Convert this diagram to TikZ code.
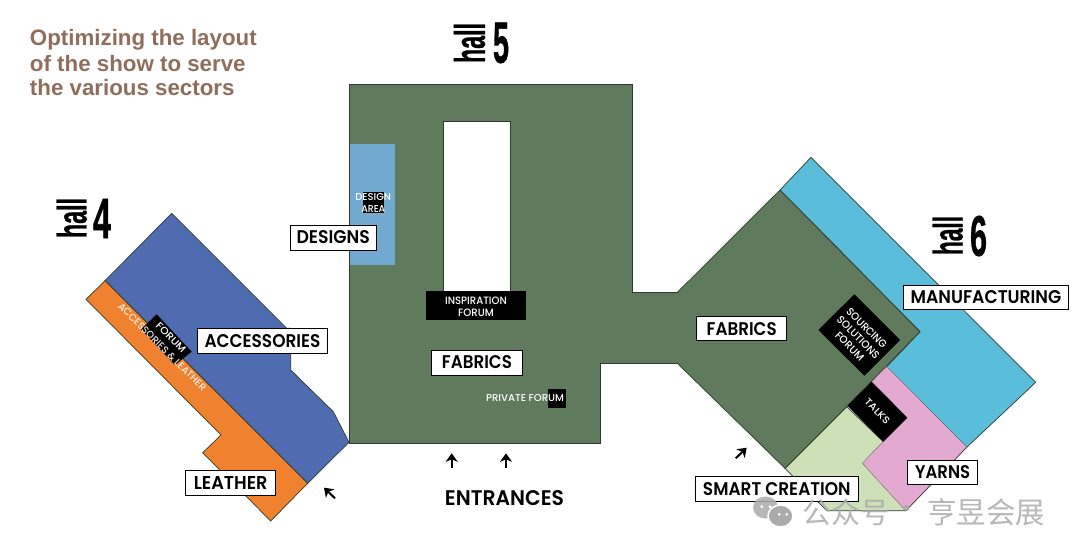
\documentclass[tikz,border=0pt]{standalone}
\usepackage{fontspec}
\usepackage{graphicx}
\setmainfont{Liberation Sans}
\newfontfamily\lblf{Poppins Medium}
\newfontfamily\boxf{Poppins SemiBold}
\newfontfamily\hallf[FakeBold=1]{Liberation Sans Bold}
\newfontfamily\cjkf{Noto Sans CJK SC}
\usetikzlibrary{arrows.meta}
\definecolor{hgreen}{HTML}{5F7A5C}
\definecolor{hblue}{HTML}{4F6CB0}
\definecolor{horange}{HTML}{F0812F}
\definecolor{hsky}{HTML}{72A9CF}
\definecolor{hcyan}{HTML}{5ABEDA}
\definecolor{hpink}{HTML}{E4A9D1}
\definecolor{hlime}{HTML}{CDE0B8}
\definecolor{hbrown}{HTML}{8F6F5B}
\definecolor{hline}{HTML}{2E3A2C}
\definecolor{wm}{HTML}{ABABAB}
\newcommand{\fitlab}[3]{\resizebox{#1pt}{#2pt}{\lblf #3}}
\newcommand{\fitbox}[2]{\resizebox{#1pt}{13pt}{\boxf #2}}
\tikzset{
  zone/.style={draw=hline,line width=0.7pt,line join=miter},
  labelbox/.style={draw=black,fill=white,line width=0.9pt,inner sep=0pt,rectangle},
  plain/.style={inner sep=0pt,outer sep=0pt},
  small/.style={plain,text=white},
  blackbox/.style={fill=black,draw=none},
  gate/.style={-{Stealth[length=8.5pt,width=12pt,inset=2.5pt]},line width=2pt,black},
  watermark/.style={plain,text=wm,opacity=.85},
}
\begin{document}
\begin{tikzpicture}[x=1pt,y=-1pt]
\useasboundingbox (0,0) rectangle (1080,555);
\fill[white] (0,0) rectangle (1080,555);
% Title
\node[plain,anchor=west,text=hbrown,font=\bfseries\fontsize{22.3}{24}\selectfont] (t1) at (30,39.5) {Optimizing the layout};
\node[plain,anchor=west,text=hbrown,font=\bfseries\fontsize{22.3}{24}\selectfont] (t2) at (30,64) {of the show to serve};
\node[plain,anchor=west,text=hbrown,font=\bfseries\fontsize{22.3}{24}\selectfont] (t3) at (30,88) {the various sectors};
% Hall 4
\draw[zone,fill=hblue] (105,280.7) -- (171.7,213.3) -- (286.7,328.3) -- (290.7,328.3) -- (290.7,370) -- (333.3,411.7) -- (349,442.3) -- (307.7,483.3) -- cycle;
\draw[zone,fill=horange] (105,280.7) -- (86,299.3) -- (221,435) -- (202.7,452.7) -- (270.7,521) -- (307.7,483.3) -- cycle;
\fill[blackbox] (156.7,314.3) -- (191.7,351.7) -- (175,365) -- (141,329.3) -- cycle;
\node[small,rotate=-45] (forum4) at (171,337.7) {\fitlab{38}{7}{FORUM}};
\node[plain,text=white,rotate=-45,opacity=.9] (accl) at (162.3,347) {\fitlab{120}{7}{ACCESSORIES \& LEATHER}};
% Hall 5 + link
\draw[zone,fill=hgreen] (349,84) -- (632.5,84) -- (632.5,292.7) -- (677,292.7) -- (677,363) -- (600,363) -- (600,443) -- (349,443) -- cycle;
\fill[hsky] (349.6,144) rectangle (395,265);
\fill[blackbox] (362.7,191.7) rectangle (384.3,212.7);
\node[small] (design) at (373.3,196.7) {\fitlab{35.7}{7}{DESIGN}};
\node[small] (area) at (373.3,208.7) {\fitlab{24}{7}{AREA}};
\draw[zone,fill=white] (443.5,292) -- (443.5,121) -- (510.5,121) -- (510.5,292);
\fill[blackbox] (426,291) rectangle (525.7,320);
\node[small] (insp) at (476,300.7) {\fitlab{61.7}{7.5}{INSPIRATION}};
\node[small] (iforum) at (476,312.3) {\fitlab{35.7}{7.5}{FORUM}};
\fill[blackbox] (547.7,388.7) rectangle (565.7,408.3);
\node[small] (private) at (525,398) {\fitlab{78}{7}{PRIVATE FORUM}};
% Hall 6
\draw[zone,fill=hcyan] (780,190) -- (811,157.3) -- (1035.7,382.3) -- (966.7,447.3) -- (886.7,366.7) -- (920,331.7) -- cycle;
\draw[zone,fill=hlime] (846.7,406.7) -- (883.3,441.7) -- (862.7,463.3) -- (906,510.7) -- (826.7,510.7) -- (785,468.3) -- cycle;
\fill[hpink] (886.7,366.7) -- (966.7,447.3) -- (906,510.7) -- (862.7,463.3) -- (883.3,441.7) -- (871.7,381.7) -- cycle;
\draw[hline,line width=0.7pt] (966.7,447.3) -- (906,510.7);
\draw[zone,fill=hgreen] (677,292.7) -- (780,190) -- (920,331.7) -- (846.7,406.7) -- (785,468.3) -- (677,363);
\fill[blackbox] (854.3,294.3) -- (900,340) -- (864.3,375.7) -- (818.3,330) -- cycle;
\node[small,rotate=-45] (s1) at (866.7,328.3) {\fitlab{52}{7.5}{SOURCING}};
\node[small,rotate=-45] (s2) at (858.3,337.5) {\fitlab{55}{7.5}{SOLUTIONS}};
\node[small,rotate=-45] (s3) at (849.7,346.2) {\fitlab{36}{7.5}{FORUM}};
\fill[blackbox] (871.7,381.7) -- (907.3,417.7) -- (883.3,441.7) -- (847.3,405.7) -- cycle;
\node[small,rotate=-45] (talks) at (877.3,411.3) {\fitlab{31}{7}{TALKS}};
% Label boxes
\node[labelbox,minimum width=129.6pt,minimum height=25pt] (accessories) at (262.5,340.8) {\fitbox{116}{ACCESSORIES}};
\node[labelbox,minimum width=90pt,minimum height=24.6pt] (leather) at (230.7,483) {\fitbox{73.7}{LEATHER}};
\node[labelbox,minimum width=85.7pt,minimum height=25pt] (designs) at (333.2,237.5) {\fitbox{73.3}{DESIGNS}};
\node[labelbox,minimum width=90.6pt,minimum height=25pt] (fabrics5) at (477,362.5) {\fitbox{70}{FABRICS}};
\node[labelbox,minimum width=90pt,minimum height=24pt] (fabrics6) at (741.7,328.7) {\fitbox{70}{FABRICS}};
\node[labelbox,minimum width=165.4pt,minimum height=24pt] (manuf) at (986,297) {\fitbox{150.7}{MANUFACTURING}};
\node[labelbox,minimum width=70pt,minimum height=24pt] (yarns) at (942.7,472) {\fitbox{55}{YARNS}};
\node[labelbox,minimum width=163pt,minimum height=25pt] (smart) at (776.8,489.2) {\fitbox{147.7}{SMART CREATION}};
\node[plain] (entr) at (504.5,498) {\resizebox{119pt}{15pt}{\boxf ENTRANCES}};
% Hall titles
\node[plain,rotate=90] (h4) at (71.7,218) {\resizebox{40pt}{30pt}{\hallf hall}};
\node[plain] (n4) at (102,218.5) {\resizebox{18pt}{39pt}{\hallf 4}};
\node[plain,rotate=90] (h5) at (469.5,43) {\resizebox{40pt}{31pt}{\hallf hall}};
\node[plain] (n5) at (501,43) {\resizebox{16pt}{40pt}{\hallf 5}};
\node[plain,rotate=90] (h6) at (947.7,235.5) {\resizebox{39pt}{30pt}{\hallf hall}};
\node[plain] (n6) at (978.5,236) {\resizebox{17pt}{40pt}{\hallf 6}};
% Entrance arrows
\coordinate (a1s) at (335,498.3); \coordinate (a1e) at (324,487.7);
\coordinate (a2s) at (451.7,468.3); \coordinate (a2e) at (451.7,453.3);
\coordinate (a3s) at (506,468.3); \coordinate (a3e) at (506,453.3);
\coordinate (a4s) at (735.7,458.3); \coordinate (a4e) at (746.7,447.7);
\draw[gate] (a1s) -- (a1e);
\draw[gate] (a2s) -- (a2e);
\draw[gate] (a3s) -- (a3e);
\draw[gate] (a4s) -- (a4e);
% Watermark
\fill[wm,opacity=.85] (765.5,507.5) ellipse (12.5pt and 11pt);
\draw[fill=wm,draw=white,line width=1.5pt] (780.5,516) ellipse (12.5pt and 11pt);
\fill[white] (761.7,506.7) circle (1.6pt) (770,506.7) circle (1.6pt) (779.3,514.3) circle (1.5pt) (786.7,514.3) circle (1.5pt);
\node[watermark] (w1) at (846,512) {\cjkf\fontsize{29}{30}\selectfont 公众号};
\node[watermark] (w2) at (907,512) {\cjkf\fontsize{29}{30}\selectfont ·};
\node[watermark] (w3) at (986,512) {\cjkf\fontsize{29.5}{30}\selectfont 亨昱会展};
\end{tikzpicture}
\end{document}
